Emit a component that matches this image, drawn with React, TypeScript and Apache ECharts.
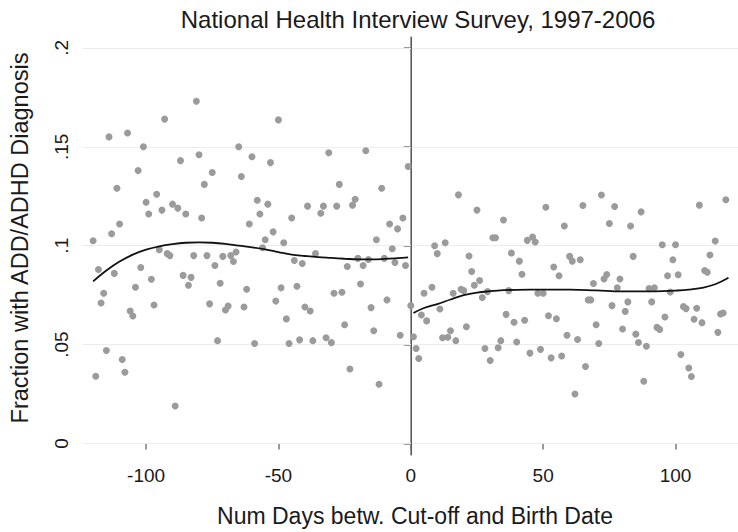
import React, { useEffect, useRef } from "react";
import * as echarts from "echarts";

const chartTitle = "National Health Interview Survey, 1997-2006";
const xAxisTitle = "Num Days betw. Cut-off and Birth Date";
const yAxisTitle = "Fraction with ADD/ADHD Diagnosis";

const xTickValues = [-100, -50, 0, 50, 100];
const yTickValues = [0, 0.05, 0.1, 0.15, 0.2];
const yTickLabels = ["0", ".05", ".1", ".15", ".2"];

// [days, fraction] before cut-off
const scatterLeft: [number, number][] = [
  [-120, 0.1025], [-119, 0.034], [-118, 0.088], [-117, 0.071], [-116, 0.076],
  [-115, 0.047], [-114, 0.155], [-113, 0.106], [-112, 0.086], [-111, 0.129],
  [-110, 0.111], [-109, 0.0425], [-108, 0.036], [-107, 0.157], [-106, 0.067],
  [-105, 0.0645], [-104, 0.079], [-103, 0.138], [-102, 0.089], [-101, 0.15],
  [-100, 0.122], [-99, 0.116], [-98, 0.083], [-97, 0.07], [-96, 0.126],
  [-95, 0.098], [-94, 0.118], [-93, 0.164], [-92, 0.096], [-91, 0.095],
  [-90, 0.121], [-89, 0.019], [-88, 0.119], [-87, 0.143], [-86, 0.085],
  [-85, 0.116], [-84, 0.08], [-83, 0.084], [-82, 0.095], [-81, 0.173],
  [-80, 0.146], [-79, 0.114], [-78, 0.131], [-77, 0.095], [-76, 0.0706],
  [-75, 0.137], [-74, 0.09], [-73, 0.052], [-72, 0.081], [-71, 0.0946],
  [-70, 0.0675], [-69, 0.0695], [-68, 0.095], [-67, 0.092], [-66, 0.0968],
  [-65, 0.15], [-64, 0.135], [-63, 0.069], [-62, 0.078], [-61, 0.111],
  [-60, 0.145], [-59, 0.0506], [-58, 0.123], [-57, 0.116], [-56, 0.099],
  [-55, 0.103], [-54, 0.121], [-53, 0.142], [-52, 0.107], [-51, 0.072],
  [-50, 0.1636], [-49, 0.0787], [-48, 0.1015], [-47, 0.063], [-46, 0.0506],
  [-45, 0.114], [-44, 0.0925], [-43, 0.0795], [-42, 0.0524], [-41, 0.091],
  [-40, 0.069], [-39, 0.12], [-38, 0.067], [-37, 0.052], [-36, 0.096],
  [-34, 0.1164], [-33, 0.12], [-32, 0.0535], [-31, 0.147], [-30, 0.051],
  [-29, 0.076], [-28, 0.12], [-27, 0.131], [-26, 0.0765], [-25, 0.06],
  [-24, 0.0895], [-23, 0.0377], [-22, 0.1205], [-21, 0.1235], [-20, 0.0936],
  [-19, 0.0806], [-18, 0.09], [-17, 0.148], [-16, 0.093], [-15, 0.0687],
  [-14, 0.057], [-13, 0.103], [-12, 0.03], [-11, 0.129], [-10, 0.0936],
  [-9, 0.0726], [-8, 0.111], [-7, 0.0985], [-6, 0.0915], [-5, 0.1085],
  [-4, 0.0547], [-3, 0.114], [-2, 0.09], [-1, 0.14],
];

// [days, fraction] after cut-off
const scatterRight: [number, number][] = [
  [0, 0.0697], [1, 0.054], [2, 0.048], [3, 0.043], [4, 0.065],
  [5, 0.076], [6, 0.062], [8, 0.079], [9, 0.1], [10, 0.096],
  [11, 0.068], [12, 0.0535], [13, 0.1015], [14, 0.0537], [15, 0.057],
  [16, 0.076], [17, 0.052], [18, 0.1257], [19, 0.078], [20, 0.0773],
  [21, 0.059], [22, 0.0948], [23, 0.087], [24, 0.08], [25, 0.118],
  [26, 0.0824], [27, 0.0738], [28, 0.048], [29, 0.0768], [30, 0.042],
  [31, 0.104], [32, 0.104], [33, 0.0484], [34, 0.052], [35, 0.113],
  [36, 0.0653], [37, 0.0773], [38, 0.0963], [39, 0.0613], [40, 0.0513],
  [41, 0.0922], [42, 0.0856], [43, 0.0623], [44, 0.1027], [45, 0.0457],
  [46, 0.1044], [47, 0.1019], [48, 0.076], [49, 0.0476], [50, 0.076],
  [51, 0.1194], [52, 0.0646], [53, 0.0433], [54, 0.0892], [55, 0.0631],
  [56, 0.0848], [57, 0.0442], [58, 0.11], [59, 0.0547], [60, 0.0946],
  [61, 0.0922], [62, 0.025], [63, 0.0526], [64, 0.0929], [65, 0.1203],
  [66, 0.0389], [67, 0.0726], [68, 0.0726], [69, 0.0809], [70, 0.06],
  [71, 0.0506], [72, 0.1256], [73, 0.0832], [74, 0.0854], [75, 0.1112],
  [76, 0.0697], [77, 0.1198], [78, 0.0787], [79, 0.0832], [80, 0.0579],
  [81, 0.0668], [82, 0.0716], [83, 0.11], [84, 0.0946], [85, 0.0553],
  [86, 0.0511], [87, 0.1171], [88, 0.0315], [89, 0.0492], [90, 0.0783],
  [91, 0.0716], [92, 0.0787], [93, 0.0587], [94, 0.0577], [95, 0.1005],
  [96, 0.064], [97, 0.0848], [98, 0.0766], [99, 0.0929], [100, 0.1005],
  [101, 0.0853], [102, 0.045], [103, 0.0692], [104, 0.0682], [105, 0.0382],
  [106, 0.0339], [107, 0.0628], [108, 0.0684], [109, 0.1205], [110, 0.0611],
  [111, 0.0875], [112, 0.0866], [113, 0.0953], [115, 0.1024], [116, 0.0562],
  [117, 0.0655], [118, 0.066], [119, 0.1232],
];

// fitted curves
const fitLeft: [number, number][] = [
  [-120, 0.082], [-115, 0.0875], [-110, 0.092], [-105, 0.0955], [-100, 0.098],
  [-95, 0.0997], [-90, 0.1008], [-85, 0.1015], [-80, 0.1017], [-75, 0.1015],
  [-70, 0.1009], [-65, 0.1], [-60, 0.0992], [-55, 0.0982], [-50, 0.0968],
  [-45, 0.0955], [-40, 0.0948], [-35, 0.0942], [-30, 0.0938], [-25, 0.0934],
  [-20, 0.0931], [-15, 0.0931], [-10, 0.0933], [-5, 0.0937], [-1, 0.0941],
];

const fitRight: [number, number][] = [
  [1, 0.066], [5, 0.0685], [10, 0.0705], [15, 0.0728], [20, 0.075],
  [25, 0.0763], [30, 0.077], [35, 0.0775], [40, 0.0777], [50, 0.0778],
  [60, 0.0778], [70, 0.0774], [80, 0.0769], [90, 0.0769], [95, 0.077],
  [100, 0.0773], [105, 0.0778], [110, 0.0787], [115, 0.0805], [120, 0.0838],
];

const FONT = "'Liberation Sans', Arial, Helvetica, sans-serif";

export default function App() {
  const ref = useRef<HTMLDivElement>(null);

  useEffect(() => {
    if (!ref.current) return;
    const chart = echarts.init(ref.current, undefined, { renderer: "svg" });
    const pointStyle = { color: "#9b9b9b", opacity: 1 };
    chart.setOption({
      animation: false,
      backgroundColor: "#ffffff",
      textStyle: { fontFamily: FONT },
      grid: { left: 81, right: 0, top: 37, bottom: 75, containLabel: false },
      graphic: [
        {
          type: "text",
          x: 418,
          y: 19,
          style: {
            text: chartTitle,
            fontSize: 24,
            fontFamily: FONT,
            fill: "#1a1a1a",
            align: "center",
            verticalAlign: "middle",
          },
        },
      ],
      xAxis: {
        type: "value",
        min: -124.2,
        max: 123.6,
        name: xAxisTitle,
        nameLocation: "middle",
        nameGap: 49,
        nameTextStyle: { fontSize: 23, color: "#1a1a1a", fontFamily: FONT, padding: [0, 0, 0, 10] },
        axisLine: { show: false },
        axisTick: {
          show: true,
          length: 6,
          customValues: xTickValues,
          lineStyle: { color: "#777", width: 1.5 },
        },
        axisLabel: {
          customValues: xTickValues,
          fontSize: 19,
          color: "#1a1a1a",
          margin: 11,
          fontFamily: FONT,
        },
        splitLine: { show: false },
      },
      yAxis: {
        type: "value",
        min: -0.0058,
        max: 0.2055,
        name: yAxisTitle,
        nameLocation: "middle",
        nameRotate: 90,
        nameGap: 50,
        nameTextStyle: { fontSize: 23.5, color: "#1a1a1a", fontFamily: FONT, padding: [0, 0, 0, 16] },
        axisLine: { show: true, lineStyle: { color: "#7a7a7a", width: 1.5 } },
        axisTick: {
          show: true,
          length: 7,
          customValues: yTickValues,
          lineStyle: { color: "#7a7a7a", width: 1.5 },
        },
        axisLabel: {
          customValues: yTickValues,
          rotate: 90,
          fontSize: 19,
          color: "#1a1a1a",
          margin: 11,
          fontFamily: FONT,
          formatter: (v: number) => {
            const i = yTickValues.findIndex((t) => Math.abs(t - v) < 1e-9);
            return i >= 0 ? yTickLabels[i] : "";
          },
        },
        splitLine: { show: false },
      },
      series: [
        {
          type: "scatter",
          data: scatterLeft,
          symbolSize: 7,
          itemStyle: pointStyle,
          z: 3,
          markLine: {
            silent: true,
            symbol: ["none", "none"],
            label: { show: false },
            z: 1,
            animation: false,
            data: [
              ...yTickValues.map((v) => ({
                yAxis: v,
                lineStyle: { color: "#ececec", width: 1, type: "solid" },
              })),
              {
                xAxis: 0,
                lineStyle: { color: "#5a5a5a", width: 1, type: "solid" },
              },
            ],
          },
        },
        {
          type: "scatter",
          data: scatterRight,
          symbolSize: 7,
          itemStyle: pointStyle,
          z: 3,
        },
        {
          type: "line",
          data: fitLeft,
          smooth: 0.4,
          showSymbol: false,
          lineStyle: { color: "#111", width: 1.8 },
          z: 4,
        },
        {
          type: "line",
          data: fitRight,
          smooth: 0.4,
          showSymbol: false,
          lineStyle: { color: "#111", width: 1.8 },
          z: 4,
        },
      ],
    });
    return () => chart.dispose();
  }, []);

  return (
    <div
      ref={ref}
      style={{ position: "absolute", left: 0, top: 0, width: 738, height: 532, background: "#fff" }}
    />
  );
}
